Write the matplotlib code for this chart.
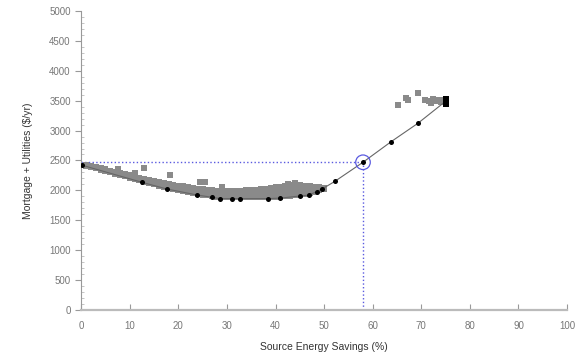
import matplotlib
matplotlib.use("Agg")
from matplotlib import pyplot as plt
from matplotlib.ticker import MultipleLocator

plt.rcParams['font.family'] = ['Liberation Sans', 'DejaVu Sans']

# optimal path (black points joined by a line)
opt_x = [0.2, 12.5, 17.6, 23.8, 26.9, 28.6, 31.0, 32.7, 38.5, 41.0, 45.1, 46.8, 48.5, 49.5, 52.2, 58.0, 63.8, 69.3, 74.9]
opt_y = [2420, 2135, 2023, 1923, 1884, 1862, 1862, 1862, 1862, 1870, 1906, 1920, 1980, 2018, 2150, 2470, 2815, 3122, 3484]

# extra black points stacked at the end
end_x = [75.0, 75.0, 75.0]
end_y = [3450, 3510, 3530]

# all simulated cases (gray)
band_x = [1, 2, 3, 4, 5, 6, 7, 8, 9, 10, 11, 12, 13, 14, 15, 16, 17, 18, 19, 20,
          21, 22, 23, 24, 25, 26, 27, 28, 29, 30, 31, 32, 33, 34, 35, 36, 37, 38, 39, 40,
          41, 42, 43, 44, 45, 46, 47, 48, 49, 50]
band_lo = [2410, 2390, 2370, 2345, 2325, 2300, 2280, 2255, 2235, 2210, 2190, 2165, 2145, 2120, 2100, 2080, 2060, 2040, 2020, 2000,
           1985, 1970, 1955, 1940, 1925, 1915, 1905, 1895, 1890, 1885, 1885, 1885, 1885, 1885, 1885, 1885, 1885, 1885, 1885, 1890,
           1895, 1900, 1910, 1920, 1930, 1945, 1960, 1980, 2000, 2030]
band_mid = [2415, 2395, 2380, 2360, 2338, 2315, 2295, 2272, 2252, 2230, 2212, 2190, 2170, 2150, 2130, 2112, 2092, 2075, 2058, 2040,
            2025, 2010, 1998, 1985, 1970, 1960, 1952, 1945, 1940, 1938, 1938, 1940, 1940, 1942, 1942, 1948, 1952, 1958, 1962, 1970,
            1978, 1990, 2000, 2010, 2010, 2012, 2015, 2020, 2025, 2035]
band_hi = [2420, 2400, 2390, 2370, 2350, 2330, 2310, 2290, 2270, 2250, 2235, 2215, 2195, 2180, 2160, 2145, 2125, 2110, 2095, 2080,
           2065, 2050, 2040, 2030, 2015, 2005, 2000, 1995, 1990, 1990, 1990, 1995, 1995, 2000, 2000, 2010, 2020, 2030, 2040, 2050,
           2060, 2080, 2090, 2100, 2090, 2080, 2070, 2060, 2050, 2040]

out_x = [7.6, 11.1, 13.0, 18.3, 24.5, 25.5, 29.0, 44.0, 42.5, 65.3, 66.9, 67.3, 69.3, 70.8, 71.5, 72.0, 72.5, 73.0, 73.5, 74.0, 74.5]
out_y = [2353, 2286, 2370, 2257, 2146, 2146, 2052, 2130, 2110, 3428, 3540, 3520, 3624, 3520, 3500, 3470, 3530, 3490, 3510, 3480, 3520]

# selected design
sel_x = 58.0
sel_y = 2470

fig = plt.figure(figsize=(5.84, 3.57), dpi=100)
ax = fig.add_axes([0.139, 0.132, 0.832, 0.837])

gray = '#8a8a8a'
for ys in (band_lo, band_mid, band_hi):
    ax.scatter(band_x, ys, s=18, color=gray, marker='s', linewidths=0, zorder=2)
ax.scatter(out_x, out_y, s=14, color=gray, marker='s', linewidths=0, zorder=2)

ax.plot(opt_x, opt_y, color='#666666', lw=0.8, zorder=3)
ax.scatter(opt_x, opt_y, s=13, color='black', marker='o', linewidths=0, zorder=4)
ax.scatter(end_x, end_y, s=14, color='black', marker='s', linewidths=0, zorder=4)

# guide lines to the selected point
blue = '#5a5ae0'
ax.plot([0, sel_x], [sel_y, sel_y], ls=':', color=blue, lw=1.0, zorder=1)
ax.plot([sel_x, sel_x], [0, sel_y], ls=':', color=blue, lw=1.0, zorder=1)
ax.scatter([sel_x], [sel_y], s=110, facecolors='none', edgecolors=blue, linewidths=0.9, zorder=5)

ax.set_xlim(0, 100)
ax.set_ylim(0, 5000)
ax.xaxis.set_major_locator(MultipleLocator(10))
ax.yaxis.set_major_locator(MultipleLocator(500))
ax.yaxis.set_minor_locator(MultipleLocator(100))

for s in ('top', 'right'):
    ax.spines[s].set_visible(False)
ax.spines['left'].set_color('#999999')
ax.spines['bottom'].set_color('#bbbbbb')
ax.spines['bottom'].set_linewidth(1.6)

ax.tick_params(axis='x', direction='in', length=4, color='#999999', labelsize=7, labelcolor='#777777', pad=8)
ax.tick_params(axis='y', which='major', direction='out', length=4, color='#999999', labelsize=7, labelcolor='#777777')
ax.tick_params(axis='y', which='minor', direction='in', length=2, color='#bbbbbb')

ax.set_xlabel('Source Energy Savings (%)', fontsize=7.5, color='#333333', labelpad=8)
ax.set_ylabel('Mortgage + Utilities ($/yr)', fontsize=7.5, color='#333333', labelpad=12)

plt.savefig('out.png', dpi=100)
